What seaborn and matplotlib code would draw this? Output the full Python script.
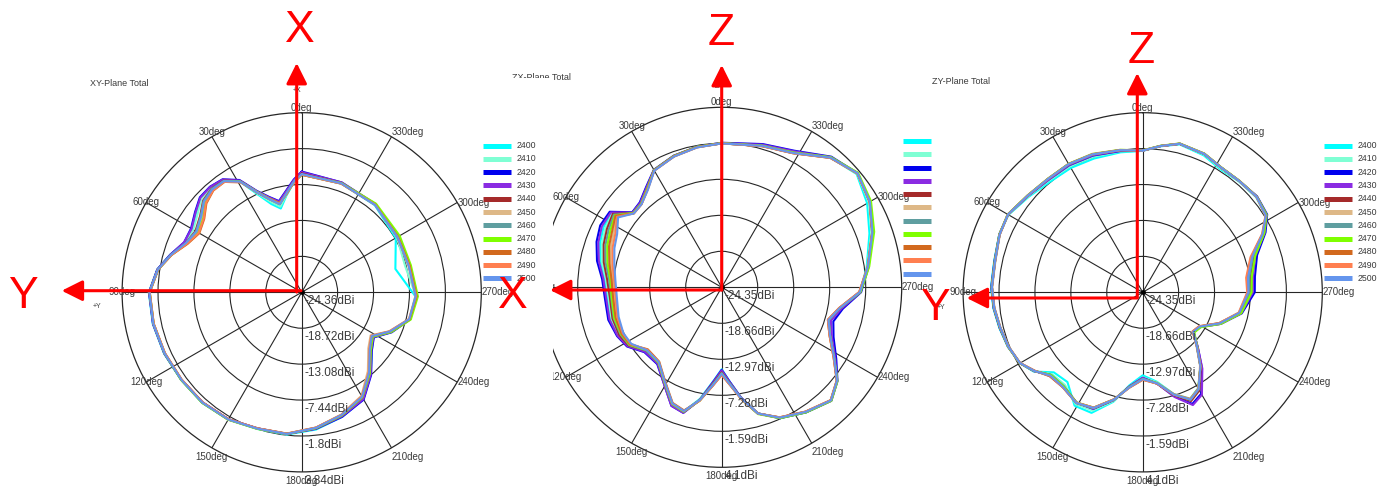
import numpy as np
import pandas as pd
import matplotlib
matplotlib.use("Agg")
import matplotlib.pyplot as plt
import matplotlib.transforms as mtransforms
from matplotlib.patches import Rectangle
import seaborn as sns

# frequencies (MHz) and their legend colours
freqs = ["2400", "2410", "2420", "2430", "2440", "2450", "2460", "2470", "2480", "2490", "2500"]
colors = ["#00ffff", "#7fffd4", "#0000ee", "#8a2be2", "#a52a2a", "#deb887",
          "#5f9ea0", "#7fff00", "#d2691e", "#ff7f50", "#6495ed"]

# ---- XY plane (deg, dBi) ----
xy_angles = [0, 4, 9, 14, 19, 24, 29, 35, 41, 47, 53, 60, 67, 74, 81, 90, 102, 114, 126, 138,
             150, 162, 174, 186, 198, 210, 220, 230, 238, 246, 256, 268, 284, 300, 320, 340]
xy_gain = [
    [-5.9, -7.0, -9.0, -10.8, -9.7, -7.6, -4.6, -2.8, -2.5, -2.6, -3.6, -4.5, -4.4, -2.9, -1.4, -0.35, -0.45, -0.7, -0.95, -1.0,
     -1.3, -1.8, -1.9, -2.7, -3.8, -5.0, -7.5, -10.0, -11.1, -9.0, -6.9, -6.5, -9.2, -7.3, -6.5, -6.2],
    [-5.8, -6.9, -8.9, -10.5, -9.3, -7.4, -4.5, -2.85, -2.6, -2.8, -3.9, -4.7, -4.5, -3.0, -1.45, -0.4, -0.5, -0.75, -1.0, -1.05,
     -1.3, -1.85, -1.95, -2.8, -3.9, -5.1, -7.6, -10.1, -11.2, -9.1, -6.9, -6.4, -7.6, -7.1, -6.4, -6.1],
    [-5.4, -6.6, -8.3, -9.6, -8.5, -6.9, -4.2, -2.7, -2.4, -2.5, -3.4, -4.3, -4.3, -2.9, -1.4, -0.4, -0.5, -0.75, -1.0, -1.1,
     -1.35, -1.9, -2.0, -2.8, -3.8, -4.9, -7.4, -10.0, -11.0, -8.9, -6.8, -6.3, -6.9, -7.0, -6.3, -6.0],
    [-5.5, -6.7, -8.4, -9.7, -8.6, -7.0, -4.3, -2.75, -2.45, -2.6, -3.5, -4.4, -4.3, -2.95, -1.45, -0.4, -0.5, -0.75, -1.0, -1.1,
     -1.35, -1.9, -2.0, -2.85, -3.9, -5.0, -7.5, -10.1, -11.1, -9.0, -6.85, -6.3, -6.9, -7.0, -6.3, -6.0],
    [-5.7, -6.9, -8.7, -10.1, -8.9, -7.2, -4.4, -2.95, -2.8, -3.2, -4.4, -5.1, -4.6, -3.0, -1.5, -0.45, -0.55, -0.8, -1.0, -1.05,
     -1.3, -1.85, -2.0, -2.9, -4.05, -5.3, -7.8, -10.3, -11.3, -9.1, -6.9, -6.4, -7.0, -7.0, -6.4, -6.1],
    [-5.9, -7.0, -8.8, -10.0, -8.8, -7.1, -4.5, -3.1, -3.0, -3.5, -4.7, -5.4, -4.7, -3.05, -1.5, -0.5, -0.6, -0.85, -1.05, -1.05,
     -1.3, -1.9, -2.05, -3.0, -4.2, -5.6, -8.2, -10.7, -11.6, -9.3, -7.0, -6.5, -7.1, -7.0, -6.4, -6.2],
    [-5.8, -6.9, -8.7, -10.0, -8.9, -7.2, -4.45, -3.0, -2.85, -3.3, -4.5, -5.2, -4.6, -3.0, -1.5, -0.45, -0.55, -0.8, -1.0, -1.05,
     -1.3, -1.85, -2.0, -2.95, -4.1, -5.4, -7.9, -10.4, -11.4, -9.2, -6.9, -6.4, -7.0, -6.9, -6.4, -6.15],
    [-5.9, -7.0, -8.8, -10.0, -8.8, -7.1, -4.5, -3.1, -3.1, -3.7, -5.0, -5.6, -4.8, -3.1, -1.55, -0.5, -0.6, -0.8, -0.95, -1.0,
     -1.25, -1.8, -2.0, -2.9, -4.0, -5.3, -7.7, -10.2, -11.2, -9.0, -6.7, -6.1, -6.7, -6.6, -6.2, -6.1],
    [-5.9, -7.0, -8.8, -9.9, -8.8, -7.2, -4.6, -3.2, -3.2, -3.9, -5.2, -5.8, -4.9, -3.1, -1.55, -0.5, -0.6, -0.85, -1.05, -1.1,
     -1.35, -1.9, -2.05, -3.0, -4.1, -5.4, -7.9, -10.4, -11.4, -9.2, -6.9, -6.3, -6.9, -6.9, -6.4, -6.2],
    [-5.9, -7.0, -8.8, -10.0, -8.9, -7.2, -4.6, -3.2, -3.15, -3.8, -5.1, -5.7, -4.8, -3.1, -1.5, -0.5, -0.6, -0.85, -1.05, -1.1,
     -1.35, -1.9, -2.05, -3.0, -4.15, -5.5, -8.0, -10.5, -11.5, -9.3, -7.0, -6.4, -7.0, -7.0, -6.4, -6.2],
    [-5.8, -6.9, -8.7, -10.1, -8.9, -7.2, -4.5, -3.05, -2.95, -3.4, -4.6, -5.3, -4.6, -3.0, -1.5, -0.45, -0.55, -0.8, -1.0, -1.05,
     -1.3, -1.85, -2.0, -2.95, -4.1, -5.4, -7.9, -10.4, -11.4, -9.2, -6.95, -6.45, -7.05, -7.0, -6.45, -6.15],
]

# ---- ZX plane ----
zx_angles = [0, 10, 20, 30, 37, 44, 50, 56, 63, 70, 78, 86, 95, 106, 115, 122, 130, 140, 149, 157, 163, 169,
             175, 180, 185, 190, 196, 204, 214, 224, 231, 238, 246, 253, 260, 268, 278, 290, 300, 310, 320, 332, 344]
zx_gain = [
    [-1.6, -1.8, -2.3, -3.0, -4.6, -5.8, -5.9, -3.3, -3.4, -3.9, -4.8, -5.8, -6.2, -6.0, -6.3, -6.9,
     -8.7, -8.8, -6.8, -4.3, -3.8, -6.4, -9.5, -11.4, -9.3, -6.6, -3.6, -1.7, -0.5, 0.5, -0.9, -3.3, -5.5, -6.6, -5.3, -2.5, -1.2, 0.5, 2.2, 3.5, 2.4, -0.2, -1.1],
    [-1.6, -1.85, -2.3, -3.0, -4.7, -5.9, -6.0, -3.5, -3.7, -4.2, -5.0, -6.0, -6.4, -6.2, -6.4, -6.9,
     -8.8, -8.8, -6.8, -4.3, -3.8, -6.3, -9.4, -11.3, -9.2, -6.6, -3.6, -1.8, -0.6, 0.5, -0.9, -3.4, -5.6, -6.7, -5.4, -2.5, -1.1, 0.8, 2.5, 3.6, 2.4, -0.3, -1.1],
    [-1.5, -1.8, -2.2, -2.9, -4.5, -5.7, -5.9, -3.0, -2.8, -3.3, -4.2, -5.4, -5.8, -5.7, -6.1, -6.7,
     -8.4, -8.5, -6.6, -4.0, -3.6, -6.2, -9.4, -11.3, -9.3, -6.6, -3.6, -1.7, -0.5, 0.6, -0.8, -3.0, -5.0, -5.9, -4.9, -2.3, -0.9, 1.0, 2.7, 3.7, 2.6, 0.1, -0.8],
    [-1.55, -1.8, -2.25, -2.95, -4.6, -5.8, -5.95, -3.2, -3.1, -3.6, -4.5, -5.6, -6.0, -5.9, -6.2, -6.8,
     -8.5, -8.6, -6.6, -4.0, -3.6, -6.2, -9.3, -11.2, -9.2, -6.6, -3.6, -1.75, -0.55, 0.55, -0.85, -3.2, -5.3, -6.3, -5.1, -2.4, -0.95, 1.0, 2.7, 3.7, 2.5, 0.0, -0.9],
    [-1.6, -1.85, -2.3, -3.0, -4.8, -6.0, -6.1, -3.6, -4.0, -4.5, -5.3, -6.2, -6.6, -6.4, -6.5, -7.0,
     -8.8, -8.8, -6.8, -4.3, -3.8, -6.2, -9.1, -10.9, -9.0, -6.5, -3.6, -1.8, -0.6, 0.5, -0.9, -3.4, -5.6, -6.7, -5.4, -2.5, -1.0, 1.0, 2.7, 3.7, 2.4, -0.3, -1.1],
    [-1.6, -1.9, -2.35, -3.05, -4.9, -6.1, -6.2, -4.3, -5.2, -5.7, -6.4, -7.1, -7.3, -7.1, -7.0, -7.3,
     -9.0, -8.9, -6.9, -4.4, -3.9, -6.1, -8.8, -10.6, -8.8, -6.4, -3.6, -1.85, -0.65, 0.45, -0.95, -3.5, -5.7, -6.8, -5.5, -2.6, -1.0, 1.0, 2.7, 3.7, 2.35, -0.35, -1.15],
    [-1.6, -1.85, -2.3, -3.0, -4.8, -6.0, -6.1, -3.8, -4.3, -4.8, -5.6, -6.5, -6.8, -6.6, -6.7, -7.1,
     -8.8, -8.8, -6.8, -4.3, -3.8, -6.2, -9.0, -10.8, -9.0, -6.5, -3.6, -1.8, -0.6, 0.5, -0.9, -3.4, -5.6, -6.7, -5.4, -2.5, -1.0, 1.0, 2.7, 3.7, 2.4, -0.3, -1.1],
    [-1.55, -1.8, -2.25, -2.95, -4.8, -6.0, -6.1, -4.0, -4.6, -5.1, -5.9, -6.7, -6.9, -6.7, -6.8, -7.2,
     -8.9, -8.8, -6.8, -4.3, -3.8, -6.1, -8.9, -10.7, -8.9, -6.4, -3.5, -1.7, -0.5, 0.6, -0.8, -3.4, -5.6, -6.7, -5.4, -2.4, -0.8, 1.3, 2.9, 3.8, 2.5, -0.2, -1.05],
    [-1.6, -1.85, -2.3, -3.0, -4.9, -6.1, -6.2, -4.1, -4.9, -5.4, -6.2, -6.9, -7.1, -6.9, -6.9, -7.3,
     -9.1, -9.0, -7.0, -4.5, -4.0, -6.1, -8.8, -10.5, -8.8, -6.4, -3.6, -1.85, -0.65, 0.45, -0.95, -3.5, -5.7, -6.8, -5.5, -2.6, -1.05, 0.95, 2.65, 3.65, 2.35, -0.35, -1.15],
    [-1.6, -1.9, -2.35, -3.05, -4.95, -6.1, -6.2, -4.4, -5.5, -6.0, -6.7, -7.3, -7.5, -7.2, -7.1, -7.4,
     -9.0, -8.9, -6.9, -4.4, -3.9, -6.1, -8.8, -10.5, -8.8, -6.4, -3.6, -1.85, -0.65, 0.45, -0.95, -3.5, -5.7, -6.8, -5.5, -2.6, -1.05, 0.95, 2.65, 3.65, 2.35, -0.35, -1.15],
    [-1.6, -1.9, -2.35, -3.05, -5.0, -6.1, -6.2, -4.6, -5.8, -6.3, -7.0, -7.5, -7.7, -7.4, -7.2, -7.5,
     -8.9, -8.9, -6.9, -4.4, -3.9, -6.2, -8.9, -10.7, -8.9, -6.5, -3.6, -1.8, -0.6, 0.5, -0.9, -3.4, -5.6, -6.7, -5.4, -2.5, -1.0, 1.0, 2.7, 3.7, 2.4, -0.3, -1.1],
]

# ---- ZY plane ----
zy_angles = [0, 9, 20, 30, 40, 50, 60, 68, 78, 88, 96, 104, 112, 120, 126, 132, 140, 149, 157, 165, 172,
             180, 189, 197, 204, 210, 218, 225, 232, 239, 248, 258, 270, 278, 288, 296, 302, 310, 319, 328, 336, 346, 353]
zy_gain = [
    [-1.95, -1.9, -1.8, -1.6, -1.5, -0.8, 0.2, 0.15, -0.3, -0.3, -0.55, -0.95, -1.3, -1.9, -3.0, -5.4, -5.8, -3.4, -3.6, -6.4, -9.5,
     -11.2, -10.0, -7.5, -5.9, -6.8, -9.5, -12.2, -14.2, -13.8, -11.2, -8.6, -7.3, -7.1, -5.8, -3.1, -1.4, -0.9, -1.1, -1.3, -0.6, -0.2, -1.05],
    [-1.9, -1.75, -1.5, -1.3, -1.25, -0.7, 0.25, 0.12, -0.38, -0.38, -0.62, -1.02, -1.35, -1.9, -3.05, -5.0, -5.2, -3.7, -4.0, -6.5, -9.3,
     -10.9, -9.9, -7.45, -5.8, -6.7, -9.5, -12.2, -14.2, -13.8, -11.2, -8.6, -7.35, -7.2, -5.9, -3.1, -1.35, -0.85, -1.05, -1.15, -0.45, -0.15, -1.0],
    [-1.9, -1.7, -1.3, -1.1, -1.1, -0.6, 0.3, 0.15, -0.35, -0.35, -0.6, -1.0, -1.35, -1.9, -3.1, -4.8, -4.9, -4.0, -4.3, -6.7, -9.3,
     -10.8, -9.7, -7.1, -5.0, -5.8, -9.1, -12.0, -14.1, -13.7, -11.0, -8.3, -6.6, -6.4, -5.3, -2.7, -1.1, -0.7, -1.0, -1.0, -0.35, -0.1, -1.0],
    [-1.9, -1.65, -1.25, -1.05, -1.1, -0.6, 0.3, 0.1, -0.4, -0.4, -0.65, -1.05, -1.35, -1.9, -3.1, -4.75, -4.85, -3.95, -4.3, -6.7, -9.3,
     -10.8, -9.7, -7.0, -4.8, -5.6, -9.0, -12.0, -14.1, -13.7, -11.0, -8.4, -6.9, -6.7, -5.6, -2.9, -1.2, -0.75, -1.0, -1.0, -0.35, -0.1, -1.0],
    [-1.9, -1.55, -1.1, -0.9, -0.95, -0.55, 0.3, 0.1, -0.45, -0.45, -0.7, -1.1, -1.4, -1.9, -3.2, -4.5, -4.7, -3.9, -4.4, -6.7, -9.2,
     -10.6, -9.7, -7.3, -5.5, -6.4, -9.4, -12.2, -14.2, -13.8, -11.2, -8.6, -7.3, -7.2, -5.9, -3.1, -1.3, -0.8, -1.0, -1.0, -0.35, -0.1, -1.0],
    [-1.9, -1.5, -1.0, -0.85, -0.9, -0.5, 0.3, 0.05, -0.5, -0.5, -0.75, -1.15, -1.45, -1.95, -3.2, -4.6, -4.7, -3.9, -4.5, -6.8, -9.1,
     -10.5, -9.8, -7.5, -5.9, -6.7, -9.6, -12.3, -14.3, -13.9, -11.3, -8.8, -7.7, -7.7, -6.3, -3.3, -1.4, -0.85, -1.0, -1.0, -0.3, -0.05, -1.0],
    [-1.9, -1.55, -1.1, -0.9, -0.95, -0.55, 0.3, 0.1, -0.45, -0.45, -0.7, -1.1, -1.4, -1.9, -3.1, -4.7, -4.8, -3.9, -4.4, -6.7, -9.2,
     -10.6, -9.8, -7.4, -5.7, -6.6, -9.5, -12.2, -14.2, -13.8, -11.2, -8.6, -7.4, -7.3, -6.0, -3.15, -1.3, -0.8, -1.0, -1.0, -0.35, -0.1, -1.0],
    [-1.85, -1.5, -1.05, -0.85, -0.9, -0.5, 0.35, 0.15, -0.4, -0.4, -0.65, -1.05, -1.35, -1.85, -3.15, -4.8, -4.9, -4.0, -4.5, -6.8, -9.2,
     -10.6, -9.8, -7.4, -5.8, -6.7, -9.5, -12.1, -14.0, -13.6, -11.0, -8.4, -7.1, -6.9, -5.6, -2.9, -1.2, -0.75, -0.95, -0.95, -0.3, -0.05, -0.95],
    [-1.9, -1.55, -1.1, -0.9, -0.95, -0.55, 0.3, 0.1, -0.45, -0.45, -0.7, -1.1, -1.4, -1.9, -3.2, -4.6, -4.7, -3.95, -4.5, -6.8, -9.1,
     -10.5, -9.7, -7.4, -5.8, -6.7, -9.5, -12.2, -14.3, -13.9, -11.3, -8.7, -7.6, -7.6, -6.2, -3.2, -1.35, -0.8, -1.0, -1.0, -0.35, -0.1, -1.0],
    [-1.9, -1.55, -1.1, -0.9, -0.95, -0.55, 0.3, 0.1, -0.45, -0.45, -0.7, -1.1, -1.4, -1.9, -3.2, -4.6, -4.7, -3.95, -4.5, -6.8, -9.1,
     -10.5, -9.7, -7.4, -5.8, -6.7, -9.5, -12.2, -14.3, -13.9, -11.3, -8.8, -7.8, -7.8, -6.4, -3.3, -1.4, -0.8, -1.0, -1.0, -0.35, -0.1, -1.0],
    [-1.9, -1.55, -1.1, -0.9, -0.95, -0.55, 0.3, 0.1, -0.45, -0.45, -0.7, -1.1, -1.4, -1.9, -3.15, -4.65, -4.75, -3.9, -4.45, -6.75, -9.15,
     -10.6, -9.75, -7.4, -5.75, -6.65, -9.5, -12.2, -14.2, -13.8, -11.2, -8.7, -7.6, -7.5, -6.1, -3.2, -1.35, -0.8, -1.0, -1.0, -0.35, -0.1, -1.0],
]

# ring values: centre, four rings, outer circle
xy_rings = [-24.36, -18.72, -13.08, -7.44, -1.8, 3.84]
zx_rings = [-24.35, -18.66, -12.97, -7.28, -1.59, 4.1]
zy_rings = [-24.35, -18.66, -12.97, -7.28, -1.59, 4.1]
theta_ticks = list(range(0, 360, 30))

sns.set_style("white")
plt.rcParams["font.family"] = ["Liberation Sans", "DejaVu Sans"]

W, H = 1392, 490
fig = plt.figure(figsize=(W / 100, H / 100), dpi=100)
TXT = "#3a3a3a"


def polar_axes(cx, cy, R, z):
    return fig.add_axes([(cx - R) / W, (H - cy - R) / H, 2 * R / W, 2 * R / H],
                        projection="polar", zorder=z)


def draw_panel(ax, angles, gains, rings):
    rows = []
    for f, g in zip(freqs, gains):
        for t, v in zip(list(angles) + [360], list(g) + [g[0]]):
            rows.append((np.deg2rad(t), v, f))
    df = pd.DataFrame(rows, columns=["theta", "gain", "freq"])
    sns.lineplot(data=df, x="theta", y="gain", hue="freq", hue_order=freqs,
                 palette=dict(zip(freqs, colors)), sort=False, estimator=None,
                 lw=1.5, legend=False, ax=ax)
    ax.set_theta_zero_location("N")
    ax.set_theta_direction(1)
    ax.set_ylim(rings[0], rings[-1])
    ax.set_yticks(rings[1:-1])
    ax.set_yticklabels([])
    ax.set_xticks(np.deg2rad(theta_ticks))
    ax.set_xticklabels([])
    ax.tick_params(length=0)
    ax.grid(True, color="#262626", lw=0.8)
    ax.spines["polar"].set_color("#262626")
    ax.spines["polar"].set_linewidth(0.9)
    ax.set_xlabel("")
    ax.set_ylabel("")
    ax.patch.set_alpha(0)

    # dBi labels below each ring on the 180deg spoke
    tr = mtransforms.offset_copy(ax.transData, fig=fig, x=2.5, y=-9, units="dots")
    for r in rings:
        ax.text(np.pi, r, f"{r:g}dBi", transform=tr, ha="left", va="center",
                fontsize=8.5, color=TXT, clip_on=False)
    # angle labels around the outer circle
    for d in theta_ticks:
        t = np.deg2rad(d)
        c = np.cos(t)
        ha = "left" if 180 < d < 360 else "center"
        if c > 0.8:
            va, dy = "bottom", 0
        elif c < -0.8:
            va, dy = "top", -4
        else:
            va, dy = "center", 0
        trt = mtransforms.offset_copy(ax.transData, fig=fig, x=0, y=dy, units="dots")
        ax.text(t, rings[-1], f"{d}deg", transform=trt, ha=ha, va=va,
                fontsize=7, color=TXT, clip_on=False)
    ax.plot([0], [rings[0]], "o", color="black", ms=2.5)


ax2 = polar_axes(721.7, 287.3, 180, 0)
draw_panel(ax2, zx_angles, zx_gain, zx_rings)
ax1 = polar_axes(301.7, 292.3, 179.6, 1)
draw_panel(ax1, xy_angles, xy_gain, xy_rings)
ax3 = polar_axes(1142.7, 292.3, 179.6, 1)
draw_panel(ax3, zy_angles, zy_gain, zy_rings)

# left screenshot overlaps the middle one
fig.add_artist(Rectangle((0, 0), 553 / W, (H - 78) / H, transform=fig.transFigure,
                         facecolor="white", edgecolor="none", zorder=0.5))
fig.text(512 / W, 1 - 77 / H, "ZX-Plane Total", fontsize=6.5, color=TXT,
         ha="left", va="center", zorder=0.2)

# overlay in pixel coordinates (y downwards)
ov = fig.add_axes([0, 0, 1, 1], zorder=5)
ov.set_xlim(0, W)
ov.set_ylim(H, 0)
ov.axis("off")

ov.text(90, 83, "XY-Plane Total", fontsize=6.5, color=TXT, ha="left", va="center")
ov.text(932, 82, "ZY-Plane Total", fontsize=6.5, color=TXT, ha="left", va="center")

# legends (middle one is cut by the right screenshot)
for lx, ly, show_text in [(483, 145.7, True), (903, 141, False), (1324, 145.7, True)]:
    for i, (f, c) in enumerate(zip(freqs, colors)):
        y = ly + i * 13.26
        ov.plot([lx, lx + 28], [y, y], color=c, lw=3.6, solid_capstyle="butt")
        if show_text:
            ov.text(lx + 33.5, y, f, fontsize=6.3, color=TXT, ha="left", va="center")

for x, y, s in [(297, 90, "+X"), (97, 306, "+Y"), (716, 86, "+Z"), (941, 307, "+Y")]:
    ov.text(x, y, s, fontsize=5, color=TXT, ha="center", va="center")

arrow = dict(arrowstyle="-|>,head_length=0.9,head_width=0.45", color="red",
             lw=2.2, mutation_scale=14, shrinkA=0, shrinkB=0)
for (x0, y0), (x1, y1) in [((296.7, 292), (296.7, 63)), ((301, 290.7), (61.7, 290.7)),
                           ((721.7, 290), (721.7, 65)), ((721.7, 290), (550, 290)),
                           ((1137.3, 297), (1137.3, 73)), ((1137.3, 298), (966.7, 298))]:
    ov.annotate("", xy=(x1, y1), xytext=(x0, y0), arrowprops=arrow)

for x, y, s in [(300, 41.7, "X"), (22.5, 308, "Y"), (721, 45, "Z"),
                (513, 308, "X"), (1141, 63.3, "Z"), (935, 320, "Y")]:
    ov.text(x, y, s, fontsize=32, color="red", ha="center", va="baseline")

fig.savefig("out.png", dpi=100)
